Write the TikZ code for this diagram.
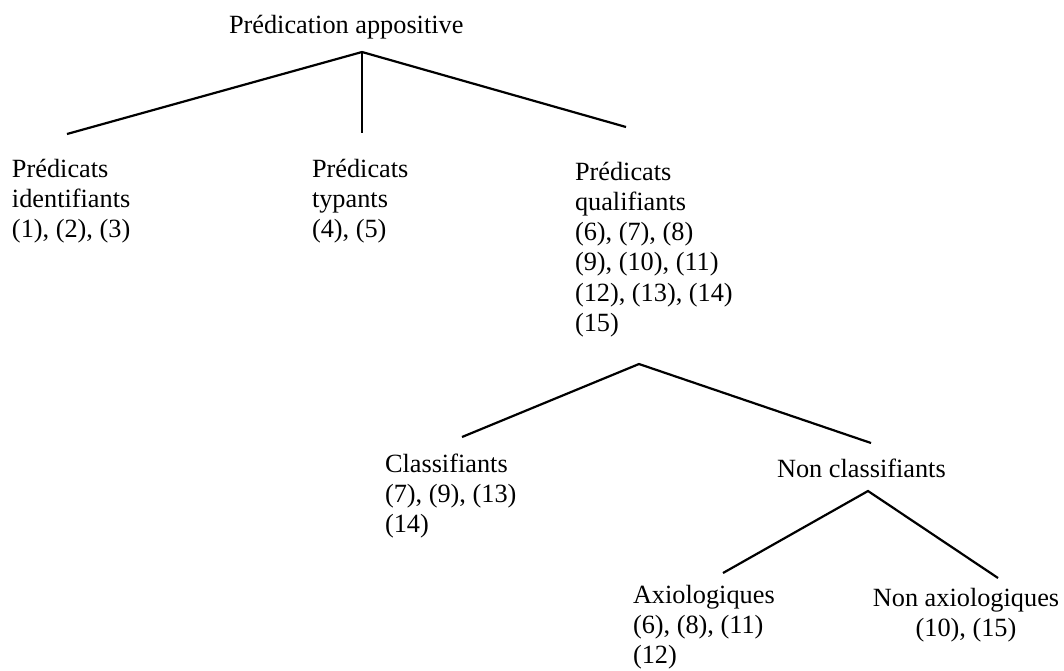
\documentclass[tikz,border=0pt]{standalone}
\usepackage{fontspec}
\setmainfont{Liberation Serif}
\begin{document}
\begin{tikzpicture}[x=1pt,y=-1pt,
  lbl/.style={anchor=base west,inner sep=0pt,outer sep=0pt,
    font=\fontsize{26.3}{30.3}\selectfont},
  lblc/.style={anchor=base,inner sep=0pt,outer sep=0pt,
    font=\fontsize{26.3}{30.3}\selectfont},
  branch/.style={line width=2.2pt,line cap=butt}]
\useasboundingbox (0,0) rectangle (1064,670);

% texts
\node[lbl] (title) at (229,33) {Prédication appositive};
\node[lbl] (pid) at (12,177) {\begin{tabular}[t]{@{}l@{}}Prédicats\\identifiants\\(1), (2), (3)\end{tabular}};
\node[lbl] (pty) at (312,177) {\begin{tabular}[t]{@{}l@{}}Prédicats\\typants\\(4), (5)\end{tabular}};
\node[lbl] (pqu) at (575,180) {\begin{tabular}[t]{@{}l@{}}Prédicats\\qualifiants\\(6), (7), (8)\\(9), (10), (11)\\(12), (13), (14)\\(15)\end{tabular}};
\node[lbl] (cla) at (385,472) {\begin{tabular}[t]{@{}l@{}}Classifiants\\(7), (9), (13)\\(14)\end{tabular}};
\node[lbl] (ncl) at (777,477) {Non classifiants};
\node[lbl] (axi) at (633,603) {\begin{tabular}[t]{@{}l@{}}Axiologiques\\(6), (8), (11)\\(12)\end{tabular}};
\node[lblc] (nax) at (966,606) {\begin{tabular}[t]{@{}c@{}}Non axiologiques\\(10), (15)\end{tabular}};

% branch points
\coordinate (a) at (362,52);
\coordinate (a1) at (67,134);
\coordinate (a2) at (362,133);
\coordinate (a3) at (626,127);
\coordinate (b) at (639,364);
\coordinate (b1) at (462,437);
\coordinate (b2) at (871,443);
\coordinate (c) at (868,491);
\coordinate (c1) at (723,573);
\coordinate (c2) at (998,578);

\draw[branch] (a1) -- (a) -- (a3);
\draw[branch] (a) -- (a2);
\draw[branch] (b1) -- (b) -- (b2);
\draw[branch] (c1) -- (c) -- (c2);
\end{tikzpicture}
\end{document}
